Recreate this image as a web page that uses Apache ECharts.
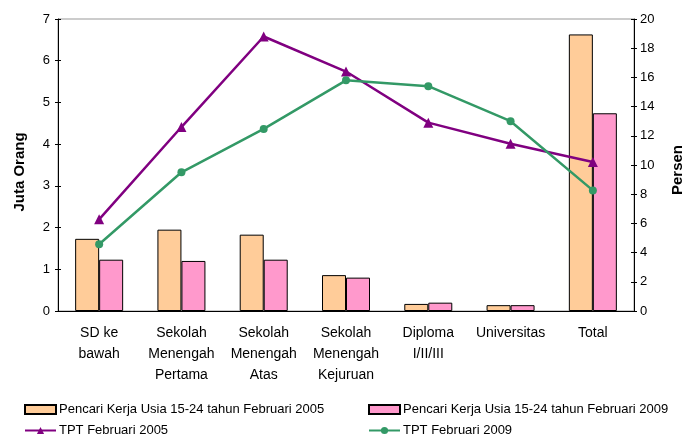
<!DOCTYPE html>
<html><head><meta charset="utf-8">
<script src="https://cdn.jsdelivr.net/npm/echarts@6/dist/echarts.min.js"></script>
<style>html,body{margin:0;padding:0;background:#fff}#c{width:684px;height:437px}</style>
</head><body><div id="c"></div>
<script>
var categories = ['SD ke\nbawah','Sekolah\nMenengah\nPertama','Sekolah\nMenengah\nAtas','Sekolah\nMenengah\nKejuruan','Diploma\nI/II/III','Universitas','Total'];
var pencari2005 = [1.73, 1.95, 1.83, 0.86, 0.17, 0.14, 6.63];
var pencari2009 = [1.23, 1.20, 1.23, 0.80, 0.20, 0.14, 4.74];
var tpt2005 = [6.28, 12.6, 18.8, 16.4, 12.9, 11.46, 10.2];
var tpt2009 = [4.57, 9.5, 12.47, 15.8, 15.4, 13.0, 8.26];
var names = ['Pencari Kerja Usia 15-24 tahun Februari 2005','Pencari Kerja Usia 15-24 tahun Februari 2009','TPT Februari 2005','TPT Februari 2009'];
var font = 'Liberation Sans, Arial, sans-serif';
var chart = echarts.init(document.getElementById('c'));
function leg(name, left, top, icon){
  var l = {data:[name], left:left, top:top, itemWidth:31, itemHeight:9, itemGap:0, padding:0,
    textStyle:{fontFamily:font, fontSize:13, color:'#000', padding:[0,0,0,-2]}, selectedMode:false};
  if (icon) l.icon = icon;
  return l;
}
chart.setOption({
  animation:false,
  textStyle:{fontFamily:font},
  grid:{left:58, right:50, top:19, bottom:126, show:true, borderColor:'#999', borderWidth:1, containLabel:false, outerBoundsMode:'none'},
  legend:[leg(names[0],24,403,'rect'), leg(names[1],368,403,'rect'), leg(names[2],24,424), leg(names[3],368,424)],
  xAxis:{type:'category', data:categories, boundaryGap:true,
    axisLine:{lineStyle:{color:'#000',width:1}},
    axisTick:{length:5, lineStyle:{color:'#000'}},
    axisLabel:{fontFamily:font, fontSize:14, color:'#000', lineHeight:21, margin:12, interval:0}},
  yAxis:[
    {type:'value', min:0, max:7, interval:1, position:'left', name:'Juta Orang', nameLocation:'middle', nameGap:31, nameRotate:90,
     nameTextStyle:{fontFamily:font, fontSize:15, fontWeight:'bold', color:'#000', padding:[0,14,0,0]},
     axisLine:{show:true, lineStyle:{color:'#000'}}, axisTick:{show:true, length:3, lineStyle:{color:'#000'}},
     axisLabel:{fontFamily:font, fontSize:13, color:'#000', margin:8}, splitLine:{show:false}},
    {type:'value', min:0, max:20, interval:2, position:'right', name:'Persen', nameLocation:'middle', nameGap:36, nameRotate:90,
     nameTextStyle:{fontFamily:font, fontSize:15, fontWeight:'bold', color:'#000', padding:[0,10,0,0]},
     axisLine:{show:true, lineStyle:{color:'#000'}}, axisTick:{show:true, length:3, lineStyle:{color:'#000'}},
     axisLabel:{fontFamily:font, fontSize:13, color:'#000', margin:6}, splitLine:{show:false}},
    {type:'value', min:0, max:7, interval:1, position:'left', axisLine:{show:false},
     axisTick:{show:true, inside:true, length:3, lineStyle:{color:'#000'}}, axisLabel:{show:false}, splitLine:{show:false}},
    {type:'value', min:0, max:20, interval:2, position:'right', axisLine:{show:false},
     axisTick:{show:true, inside:true, length:3, lineStyle:{color:'#000'}}, axisLabel:{show:false}, splitLine:{show:false}}
  ],
  series:[
    {name:names[0], type:'bar', data:pencari2005, yAxisIndex:0, barWidth:24, barGap:'0%',
     itemStyle:{color:'#FFCC99', borderColor:'#000', borderWidth:1}},
    {name:names[1], type:'bar', data:pencari2009, yAxisIndex:0, barWidth:24, barGap:'0%',
     itemStyle:{color:'#FF99CC', borderColor:'#000', borderWidth:1}},
    {name:names[2], type:'line', data:tpt2005, yAxisIndex:1, symbol:'triangle', symbolSize:10,
     lineStyle:{color:'#800080', width:2.5}, itemStyle:{color:'#800080'}},
    {name:names[3], type:'line', data:tpt2009, yAxisIndex:1, symbol:'circle', symbolSize:8,
     lineStyle:{color:'#339966', width:2.5}, itemStyle:{color:'#339966'}}
  ]
});
</script></body></html>
